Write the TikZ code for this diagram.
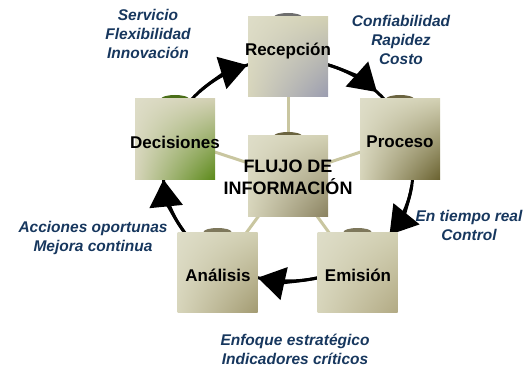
\documentclass[tikz,border=0pt]{standalone}
\usepackage{fontspec}
\setmainfont{Liberation Sans}
\usetikzlibrary{arrows.meta,calc,shadings}
\definecolor{navy}{HTML}{17375E}
\definecolor{spokec}{HTML}{C9C6A0}
\definecolor{bUL}{HTML}{DEDDC8}
\definecolor{bUR}{HTML}{D2D0B3}
\definecolor{bLL}{HTML}{D7D5BB}
\definecolor{recLR}{HTML}{9A9CB0}
\definecolor{decLR}{HTML}{5C8A1A}
\definecolor{proLR}{HTML}{6A6230}
\definecolor{cenLR}{HTML}{8A8260}
\definecolor{anaLR}{HTML}{A39B72}
\definecolor{emiLR}{HTML}{B2AA84}
\definecolor{tabGray}{HTML}{6E6E6E}
\definecolor{tabGreen}{HTML}{4A6E18}
\definecolor{tabOlive}{HTML}{6B6440}
\definecolor{tabLight}{HTML}{7E785C}
\begin{document}
\begin{tikzpicture}[x=1pt,y=1pt,
  box/.style={minimum size=80pt, inner sep=0pt, draw=none, shade, shading=bilinear interpolation, upper left=bUL, upper right=bUR, lower left=bLL, lower right=#1},
  lbl/.style={font=\bfseries\fontsize{17}{20}\selectfont, inner sep=0pt},
  biglbl/.style={font=\bfseries\fontsize{18}{22}\selectfont, inner sep=0pt, align=center},
  note/.style={font=\bfseries\itshape\fontsize{15.5}{19}\selectfont, text=navy, align=center, inner sep=0pt},
  ring/.style={line width=3pt, draw=black},
  tiparrow/.style={-{Triangle[length=27pt,width=33pt]}},
  spoke/.style={line width=3pt, draw=spokec},
]
\useasboundingbox (0,0) rectangle (527,370);
\coordinate (c) at (288,200);

% ring
\draw[ring] (c) ellipse[x radius=125pt, y radius=111pt];
\draw[ring,tiparrow] ([shift={(135:125pt and 111pt)}]c) arc[start angle=135, end angle=109, x radius=125pt, y radius=111pt];
\draw[ring,tiparrow] ([shift={(72:125pt and 111pt)}]c) arc[start angle=72, end angle=44.6, x radius=125pt, y radius=111pt];
\draw[ring,tiparrow] ([shift={(-8:125pt and 111pt)}]c) arc[start angle=-8, end angle=-35.7, x radius=125pt, y radius=111pt];
\draw[ring,tiparrow] ([shift={(-75:125pt and 111pt)}]c) arc[start angle=-75, end angle=-104, x radius=125pt, y radius=111pt];
\draw[ring,tiparrow] ([shift={(213:125pt and 111pt)}]c) arc[start angle=213, end angle=185, x radius=125pt, y radius=111pt];

% node positions
\coordinate (pcen) at (288,194);
\coordinate (prec) at (288,313);
\coordinate (pdec) at (175,231);
\coordinate (ppro) at (400,231);
\coordinate (pana) at (217.5,98);
\coordinate (pemi) at (357.5,98);

% spokes
\draw[spoke] (pcen) -- (prec);
\draw[spoke] (pcen) -- (pdec);
\draw[spoke] (pcen) -- (ppro);
\draw[spoke] (pcen) -- (pana);
\draw[spoke] (pcen) -- (pemi);

% tabs
\fill[tabGray]  ($(prec)+(-14,40)$) arc[start angle=180, end angle=0, x radius=14pt, y radius=4pt] -- cycle;
\fill[tabGreen] ($(pdec)+(-14,40)$) arc[start angle=180, end angle=0, x radius=14pt, y radius=4pt] -- cycle;
\fill[tabOlive] ($(ppro)+(-14,40)$) arc[start angle=180, end angle=0, x radius=14pt, y radius=4pt] -- cycle;
\fill[tabOlive] ($(pcen)+(-14,40)$) arc[start angle=180, end angle=0, x radius=14pt, y radius=4pt] -- cycle;
\fill[tabLight] ($(pana)+(-14,40)$) arc[start angle=180, end angle=0, x radius=14pt, y radius=4pt] -- cycle;
\fill[tabLight] ($(pemi)+(-14,40)$) arc[start angle=180, end angle=0, x radius=14pt, y radius=4pt] -- cycle;

% boxes
\node[box=cenLR] (cen) at (pcen) {};
\node[box=recLR] (rec) at (prec) {};
\node[box=decLR] (dec) at (pdec) {};
\node[box=proLR] (pro) at (ppro) {};
\node[box=anaLR] (ana) at (pana) {};
\node[box=emiLR] (emi) at (pemi) {};

% labels
\node[biglbl] (cent) at (288,193) {FLUJO DE\\INFORMACIÓN};
\node[lbl] (rect) at (288,319) {Recepción};
\node[lbl] (dect) at (175,228) {Decisiones};
\node[lbl] (prot) at (400,228) {Proceso};
\node[lbl] (anat) at (218,95) {Análisis};
\node[lbl] (emit) at (358,95) {Emisión};

% notes
\node[note] (n1) at (148,336) {Servicio\\Flexibilidad\\Innovación};
\node[note] (n2) at (401,330) {Confiabilidad\\Rapidez\\Costo};
\node[note] (n3) at (469,145) {En tiempo real\\Control};
\node[note] (n4) at (93,132) {Acciones oportunas\\Mejora continua};
\node[note] (n5) at (295,21) {Enfoque estratégico\\Indicadores críticos};
\end{tikzpicture}
\end{document}
